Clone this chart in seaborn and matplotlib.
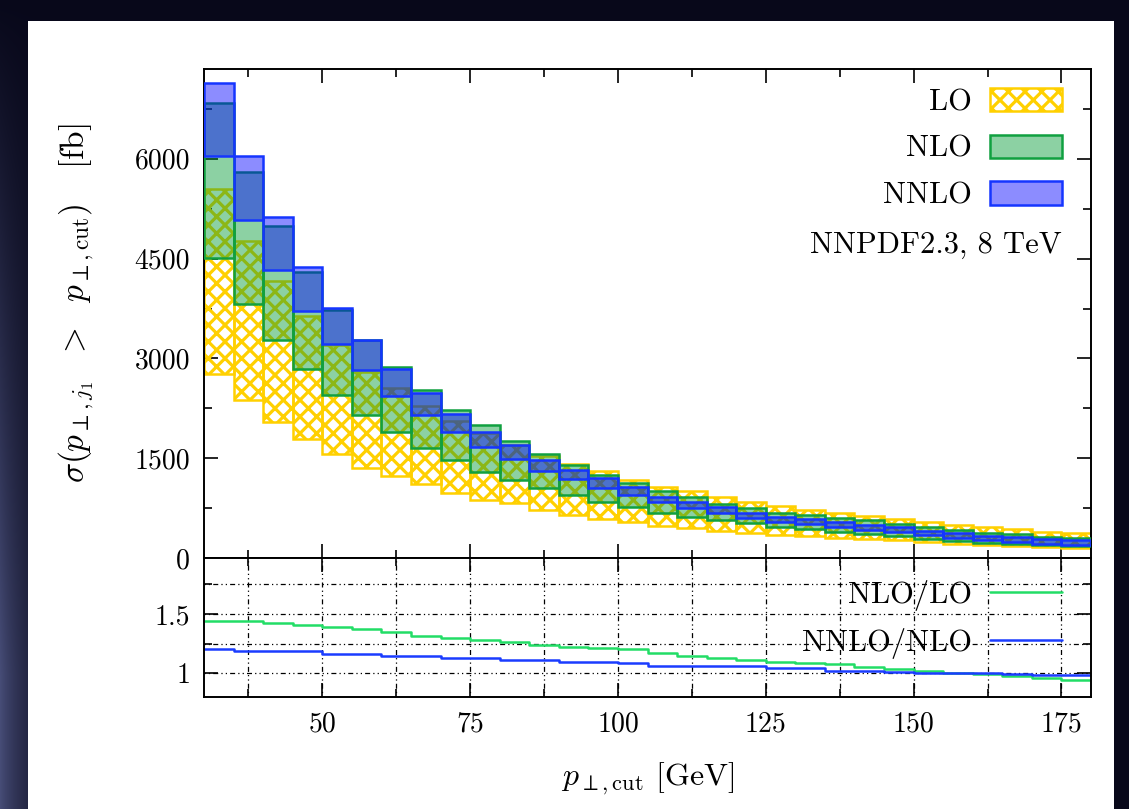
import numpy as np
import matplotlib
matplotlib.use("Agg")
import matplotlib.pyplot as plt
import seaborn as sns
from matplotlib.patches import Patch, Rectangle
from matplotlib.ticker import MultipleLocator, FuncFormatter

# ---- data: 5 GeV bins in p_T,cut from 30 to 180 GeV, cross sections in fb ----
bin_edges = [30 + 5 * i for i in range(31)]

lo_low = [2770, 2380, 2045, 1795, 1560, 1360, 1235, 1105, 970, 875,
          820, 720, 645, 580, 545, 480, 445, 410, 380, 345,
          325, 305, 290, 270, 240, 215, 195, 175, 160, 145]
lo_high = [5545, 4770, 4160, 3630, 3195, 2795, 2550, 2285, 2060, 1880,
           1700, 1540, 1410, 1310, 1170, 1070, 1010, 910, 845, 780,
           720, 670, 630, 580, 545, 495, 460, 430, 395, 370]

nlo_low = [4505, 3820, 3270, 2845, 2445, 2155, 1895, 1660, 1470, 1295,
           1170, 1045, 945, 845, 760, 670, 620, 570, 520, 470,
           430, 395, 360, 330, 290, 255, 230, 210, 195, 180]
nlo_high = [6845, 5805, 4995, 4305, 3735, 3270, 2870, 2520, 2220, 1995,
            1760, 1560, 1395, 1245, 1130, 1010, 910, 810, 745, 680,
            640, 600, 570, 510, 460, 420, 380, 360, 310, 295]

nnlo_low = [6035, 5080, 4330, 3720, 3220, 2820, 2435, 2155, 1895, 1665,
            1495, 1310, 1180, 1045, 945, 835, 745, 680, 605, 545,
            510, 465, 420, 395, 340, 300, 270, 245, 215, 195]
nnlo_high = [7145, 6035, 5130, 4370, 3760, 3270, 2845, 2480, 2170, 1895,
             1695, 1480, 1320, 1195, 1060, 920, 835, 760, 670, 620,
             580, 535, 495, 460, 410, 370, 330, 320, 285, 270]

ratio_nlo_lo = [1.44, 1.44, 1.427, 1.407, 1.388, 1.371, 1.351, 1.315, 1.295, 1.281,
                1.261, 1.239, 1.219, 1.215, 1.202, 1.169, 1.146, 1.126, 1.112, 1.093,
                1.084, 1.076, 1.056, 1.039, 1.022, 1.006, 0.994, 0.978, 0.963, 0.944]
ratio_nnlo_nlo = [1.202, 1.183, 1.183, 1.183, 1.166, 1.166, 1.146, 1.146, 1.132, 1.132,
                  1.112, 1.112, 1.096, 1.098, 1.084, 1.062, 1.062, 1.062, 1.062, 1.042,
                  1.042, 1.022, 1.022, 1.014, 1.006, 1.0, 1.0, 0.994, 0.986, 0.986]

x_ticks_major = [50, 75, 100, 125, 150, 175]

# ---- style ----
sns.set_theme(style="ticks")
plt.rcParams["font.family"] = ["cmr10", "DejaVu Serif"]
plt.rcParams["mathtext.fontset"] = "cm"
plt.rcParams["axes.formatter.use_mathtext"] = True
plt.rcParams["hatch.linewidth"] = 2.3
plt.rcParams["text.color"] = "black"
plt.rcParams["axes.labelcolor"] = "black"
plt.rcParams["xtick.color"] = "black"
plt.rcParams["ytick.color"] = "black"

YELLOW = "#ffd000"
GREEN_EDGE = "#10a040"
GREEN_FILL = (0.0, 0.6, 0.2, 0.45)
BLUE_EDGE = "#1535ff"
BLUE_FILL = (0.0, 0.0, 1.0, 0.45)
RATIO_GREEN = "#22dd66"
RATIO_BLUE = "#1a3cff"
FS = 20
FS_KEY = 22
FS_LABEL = 23

W, H = 1129, 809
fig = plt.figure(figsize=(W / 100, H / 100), dpi=100)

# dark slide backdrop with a white card
bg = fig.add_axes([0, 0, 1, 1], zorder=-10)
yy, xx = np.mgrid[0:H, 0:W]
glow = np.clip(yy / H * 1.2, 0, 1) * np.exp(-xx / 35.0)
base = np.array([8, 8, 26]) / 255.0
tint = np.array([62, 68, 92]) / 255.0
img = base[None, None, :] + glow[..., None] * tint[None, None, :]
bg.imshow(np.clip(img, 0, 1), extent=(0, W, H, 0), aspect="auto")
bg.add_patch(Rectangle((28, 21), 1114 - 28, H - 21, facecolor="white", edgecolor="none"))
bg.set_xlim(0, W)
bg.set_ylim(H, 0)
bg.axis("off")

ax1 = fig.add_axes([204 / W, 1 - 558 / H, 887 / W, 489 / H])
ax2 = fig.add_axes([204 / W, 1 - 697 / H, 887 / W, 139 / H], sharex=ax1)

left = np.array(bin_edges[:-1])
width = 5


def band(ax, low, high, **kw):
    low = np.asarray(low, dtype=float)
    high = np.asarray(high, dtype=float)
    ax.bar(left, high - low, bottom=low, width=width, align="edge", **kw)


band(ax1, lo_low, lo_high, facecolor="none", edgecolor=YELLOW, hatch="xx", linewidth=1.8, zorder=2)
band(ax1, nlo_low, nlo_high, facecolor=GREEN_FILL, edgecolor=GREEN_EDGE, linewidth=1.8, zorder=3)
band(ax1, nnlo_low, nnlo_high, facecolor=BLUE_FILL, edgecolor=BLUE_EDGE, linewidth=1.8, zorder=4)

ax1.set_xlim(30, 180)
ax1.set_ylim(0, 7350)
ax1.yaxis.set_major_locator(MultipleLocator(1500))
ax1.yaxis.set_minor_locator(MultipleLocator(750))
ax1.yaxis.set_major_formatter(FuncFormatter(lambda v, p: f"{v:g}"))
ax1.set_xticks(x_ticks_major)
ax1.xaxis.set_minor_locator(MultipleLocator(12.5))
ax1.tick_params(which="both", direction="in", top=True, right=True, labelbottom=False,
                labelsize=FS, width=1.2, pad=10)
ax1.tick_params(which="major", length=10)
ax1.tick_params(which="minor", length=6)
ax1.set_ylabel(r"$\sigma(p_{\perp,j_1}\ \ >\ \ p_{\perp,\mathrm{cut}})$   [fb]", fontsize=24)
ax1.yaxis.set_label_coords(-0.122, 0.52)

legend_handles = [
    Patch(facecolor="white", edgecolor=YELLOW, hatch="xx", linewidth=1.8, label="LO"),
    Patch(facecolor=GREEN_FILL, edgecolor=GREEN_EDGE, linewidth=1.8, label="NLO"),
    Patch(facecolor=BLUE_FILL, edgecolor=BLUE_EDGE, linewidth=1.8, label="NNLO"),
]
ax1.legend(handles=legend_handles, loc="upper right", markerfirst=False, frameon=False,
           fontsize=FS_KEY, handlelength=2.35, handleheight=0.8, labelspacing=0.6,
           handletextpad=0.6, borderpad=0, borderaxespad=0,
           bbox_to_anchor=((1062 - 204) / 887, (558 - 88) / 489))
ax1.text((1062 - 204) / 887, (558 - 245) / 489, "NNPDF2.3, 8 TeV", ha="right", va="center",
         fontsize=FS_KEY, transform=ax1.transAxes)

# ---- ratio panel ----
x_steps = bin_edges
sns.lineplot(x=x_steps, y=ratio_nlo_lo + [ratio_nlo_lo[-1]], drawstyle="steps-post",
             color=RATIO_GREEN, linewidth=1.8, ax=ax2, label="NLO/LO")
sns.lineplot(x=x_steps, y=ratio_nnlo_nlo + [ratio_nnlo_nlo[-1]], drawstyle="steps-post",
             color=RATIO_BLUE, linewidth=1.8, ax=ax2, label="NNLO/NLO")

ax2.set_ylim(0.8, 1.97)
ax2.yaxis.set_major_locator(MultipleLocator(0.5))
ax2.yaxis.set_minor_locator(MultipleLocator(0.25))
ax2.yaxis.set_major_formatter(FuncFormatter(lambda v, p: f"{v:g}"))
ax2.xaxis.set_major_formatter(FuncFormatter(lambda v, p: f"{v:g}"))
ax2.set_xticks(x_ticks_major)
ax2.xaxis.set_minor_locator(MultipleLocator(12.5))
ax2.tick_params(which="both", direction="in", top=True, right=True,
                labelsize=FS, width=1.2, pad=10)
ax2.tick_params(which="major", length=10)
ax2.tick_params(which="minor", length=6)
ax2.grid(True, which="both", color="black", linestyle=(0, (1, 2.5, 1, 2.5, 4, 2.5)), linewidth=0.9)
ax2.set_axisbelow(True)
ax2.set_xlabel(r"$p_{\perp,\mathrm{cut}}$ [GeV]", fontsize=FS_LABEL)
ax2.xaxis.set_label_coords(0.5, -0.46)
ax2.set_ylabel("")
ax2.legend(loc="upper right", markerfirst=False, frameon=False, fontsize=FS_KEY,
           handlelength=2.35, labelspacing=0.55, handletextpad=0.6, borderpad=0,
           borderaxespad=0, bbox_to_anchor=((1062 - 204) / 887, (697 - 580) / 139))

for ax in (ax1, ax2):
    for s in ax.spines.values():
        s.set_linewidth(1.4)
        s.set_color("black")
        s.set_visible(True)

fig.savefig("out.png", dpi=100)
